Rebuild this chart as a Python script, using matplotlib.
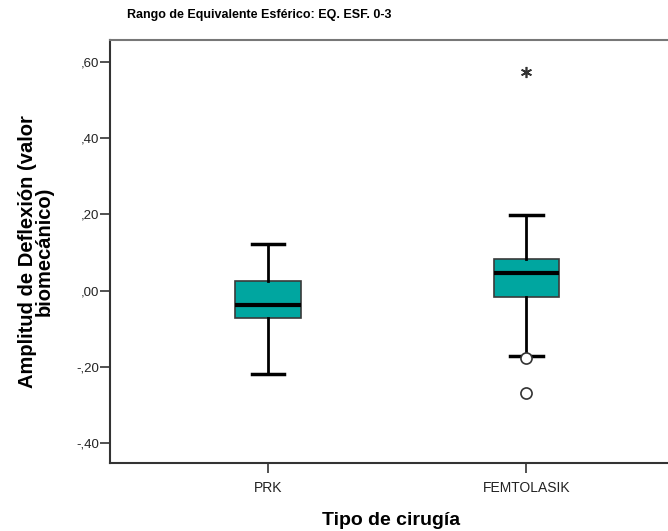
import matplotlib
matplotlib.use("Agg")
import matplotlib.pyplot as plt
from matplotlib.ticker import FuncFormatter

plt.rcParams['font.family'] = ['Liberation Sans', 'DejaVu Sans']

# Box statistics per surgery type
categories = ["PRK", "FEMTOLASIK"]
whisker_low = [-0.218, -0.171]
q1 = [-0.071, -0.018]
median = [-0.039, 0.045]
q3 = [0.026, 0.084]
whisker_high = [0.121, 0.198]
outliers_circle = [[], [-0.176, -0.268]]
outliers_extreme = [[], [0.574]]

title = "Rango de Equivalente Esférico: EQ. ESF. 0-3"
ylabel = "Amplitud de Deflexión (valor\nbiomecánico)"
xlabel = "Tipo de cirugía"
yticks = [-0.4, -0.2, 0.0, 0.2, 0.4, 0.6]

fig = plt.figure(figsize=(6.68, 5.31), dpi=100)
ax = fig.add_axes([0.1647, 0.128, 0.84, 0.7967])

stats = []
for i, name in enumerate(categories):
    stats.append(dict(label=name, whislo=whisker_low[i], q1=q1[i], med=median[i],
                      q3=q3[i], whishi=whisker_high[i], fliers=outliers_circle[i]))

positions = [1, 2]
ax.bxp(stats, positions=positions, widths=0.253, patch_artist=True,
       capwidths=0.125,
       boxprops=dict(facecolor="#00A6A0", edgecolor="#3a3a3a", linewidth=1.2),
       medianprops=dict(color="black", linewidth=3),
       whiskerprops=dict(color="black", linewidth=2),
       capprops=dict(color="black", linewidth=2.5),
       flierprops=dict(marker="o", markerfacecolor="white", markeredgecolor="#333333",
                       markersize=8, markeredgewidth=1.2))

for pos, vals in zip(positions, outliers_extreme):
    if vals:
        ax.plot([pos] * len(vals), vals, linestyle="none", marker=(6, 2, 0),
                markersize=8, color="#333333", markeredgewidth=1.2)

ax.set_xlim(0.389, 2.56)
ax.set_ylim(-0.453, 0.658)
ax.set_yticks(yticks)
ax.yaxis.set_major_formatter(FuncFormatter(
    lambda v, p: ("-" if v < -1e-9 else "") + (",%02d" % round(abs(v) * 100))))
ax.set_xticks(positions)
ax.set_xticklabels(categories)

ax.tick_params(axis="both", direction="out", length=7, width=1.2, colors="#333333",
               labelcolor="#222222")
ax.tick_params(axis="y", labelsize=9.5, pad=1)
ax.tick_params(axis="x", labelsize=10, pad=6)

for side in ("left", "bottom"):
    ax.spines[side].set_color("#333333")
    ax.spines[side].set_linewidth(1.5)
ax.spines["top"].set_color("#777777")
ax.spines["top"].set_linewidth(1.5)
ax.spines["right"].set_visible(False)

ax.set_xlabel(xlabel, fontsize=14, fontweight="bold", labelpad=12)
ax.set_ylabel(ylabel, fontsize=14.5, fontweight="bold", labelpad=16, linespacing=0.85)

fig.text(0.388, 0.972, title, ha="center", va="center", fontsize=9, fontweight="bold")

fig.savefig("out.png", dpi=100, facecolor="white")
